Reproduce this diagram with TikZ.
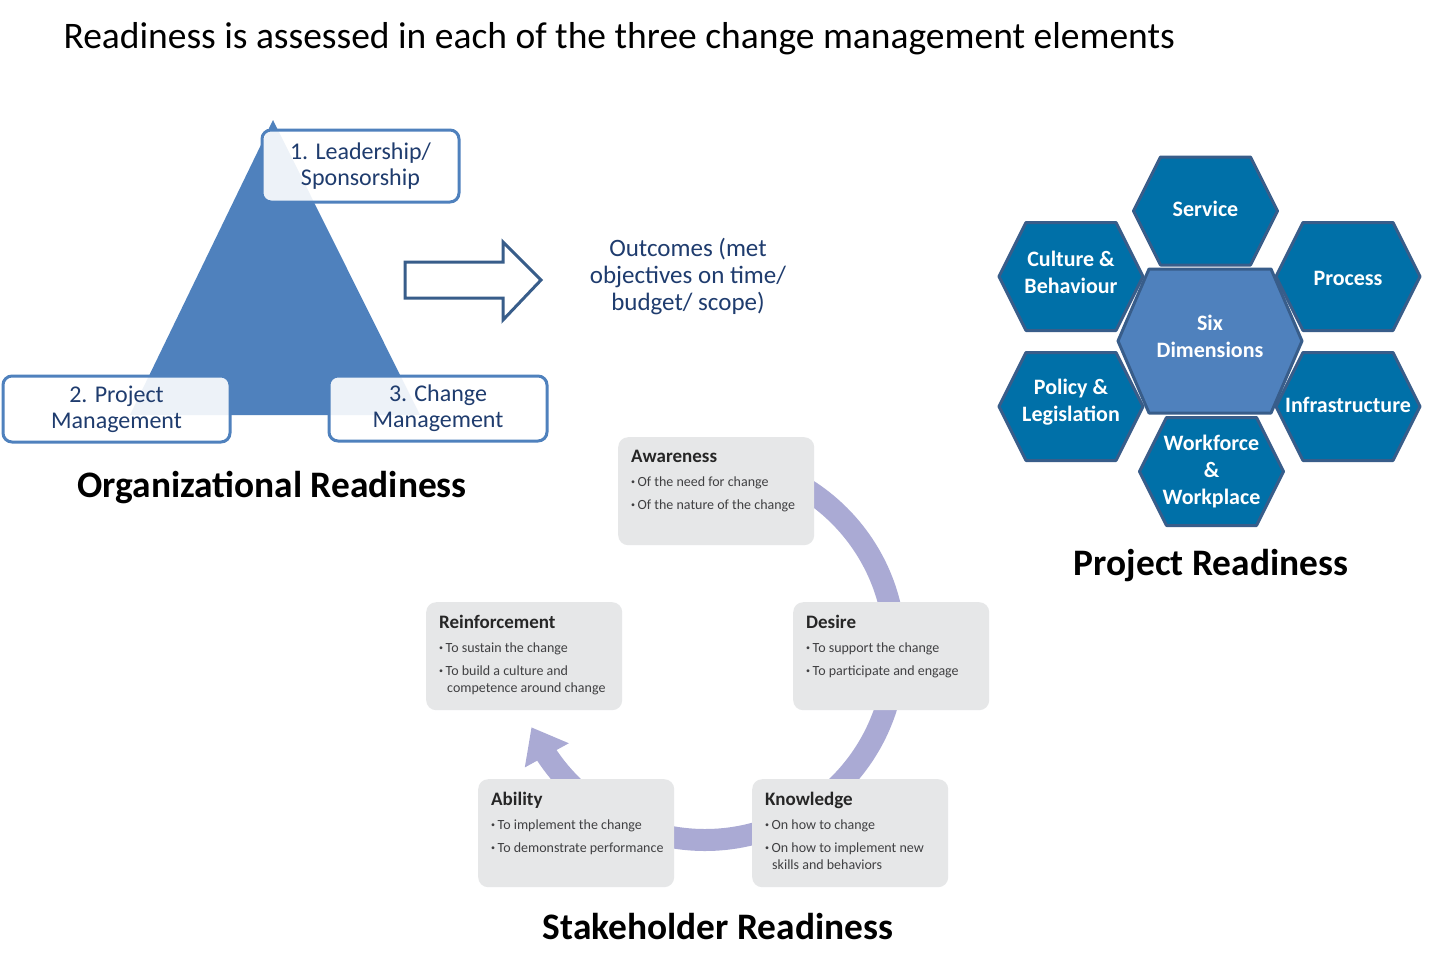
\documentclass[tikz,border=0pt]{standalone}
\usepackage{fontspec}
\setmainfont{Carlito}
\usetikzlibrary{positioning,arrows.meta,bending}

\definecolor{triblue}{RGB}{79,129,189}
\definecolor{navytxt}{RGB}{31,60,110}
\definecolor{hexfill}{RGB}{0,112,168}
\definecolor{hexedge}{RGB}{56,93,138}
\definecolor{stagegray}{RGB}{230,231,232}
\definecolor{cyclelav}{RGB}{170,170,212}
\definecolor{stagetext}{RGB}{64,64,66}

\newcommand{\fs}[2]{\fontsize{#1}{#2}\selectfont}
\newcommand{\bul}{\raisebox{2pt}{\fs{8}{8}\textbullet}\hspace{2.5pt}}
\newcommand{\stagehead}[1]{{\fs{19}{18}\bfseries\color{black!85}#1}}

\begin{document}
\begin{tikzpicture}[x=1pt,y=-1pt,
  pillar/.style={draw=triblue,line width=3pt,rounded corners=9pt,fill=white,fill opacity=0.9,
    text opacity=1,text=navytxt,align=center,font=\fs{24}{26},inner sep=0pt},
  hexcell/.style={fill=hexfill,draw=hexedge,line width=3pt,line join=round},
  hexlabel/.style={text=white,font=\bfseries\fs{22}{27},align=center},
  headline/.style={font=\bfseries\fs{37.4}{42}},
  stage/.style={fill=stagegray,rounded corners=10pt,minimum width=196pt,minimum height=108pt,
    anchor=north west,inner sep=0pt},
  stagetxt/.style={align=left,inner sep=0pt,text=stagetext,font=\fs{14}{17}},
  cycle/.style={cyclelav,line width=22pt,-{Triangle[length=32pt,width=48pt,flex]}}]
\path[fill=white,use as bounding box] (0,0) rectangle (1432,972);
% title
\node[anchor=base west,font=\fs{37.5}{42}] (title) at (60,48)
  {Readiness is assessed in each of the three change management elements};
% organizational readiness triangle
\fill[triblue] (273,120) -- (420,415) -- (130,415) -- cycle;
\node[pillar,minimum width=197pt,minimum height=72pt] (lead) at (360.5,166) {1. Leadership/\\Sponsorship};
\node[pillar,minimum width=227pt,minimum height=66pt] (pm) at (116.5,409) {2. Project\\Management};
\node[pillar,minimum width=218pt,minimum height=65pt] (cm) at (438,408.5) {3. Change\\Management};
\node[headline] (orglabel) at (272,488) {Organizational Readiness};
% block arrow to outcomes
\draw[hexedge,line width=3pt,fill=white,line join=miter]
  (405,262) -- (503,262) -- (503,242) -- (541,280) -- (503,320) -- (503,298) -- (405,298) -- cycle;
\node[font=\fs{25}{27},text=navytxt,align=center] (outcomes) at (688,277)
  {Outcomes (met\\objectives on time/\\budget/ scope)};
% project readiness hexagons
\foreach \cx/\cy/\dy/\nm/\txt in {1205.5/211/-2/service/Service,
    1071/276.5/-4/culture/{Culture \&\\Behaviour},
    1348/276.5/2/process/Process,
    1071/406.5/-4/policy/{Policy \&\\Legislation},
    1348/406.5/-2/infra/Infrastructure,
    1211.5/471.5/0/workforce/{Workforce\\\&\\Workplace}}{
  \filldraw[hexcell] (\cx-72,\cy) -- (\cx-45,\cy-54) -- (\cx+45,\cy-54) -- (\cx+72,\cy)
    -- (\cx+45,\cy+54) -- (\cx-45,\cy+54) -- cycle;
  \node[hexlabel] (\nm) at (\cx,\cy+\dy) {\txt};
}
\filldraw[hexcell,fill=triblue] (1118,341) -- (1149,269) -- (1271,269) -- (1302,341)
  -- (1271,413) -- (1149,413) -- cycle;
\node[hexlabel] (sixdim) at (1210,336) {Six\\Dimensions};
\node[headline] (projlabel) at (1211,566) {Project Readiness};
% stakeholder readiness cycle
\draw[cycle] (705,460) arc[start angle=270,end angle=516,radius=190];
\node[stage] (aware) at (618,437) {};
\node[stage] (desire) at (793,602) {};
\node[stage] (knowl) at (752,779) {};
\node[stage] (ability) at (478,779) {};
\node[stage] (reinf) at (426,602) {};
\node[stagetxt,below right=13pt and 13pt of aware.north west]
  {\stagehead{Awareness}\\[7pt]\bul Of the need for change\\[6pt]\bul Of the nature of the change};
\node[stagetxt,below right=13pt and 13pt of desire.north west]
  {\stagehead{Desire}\\[7pt]\bul To support the change\\[6pt]\bul To participate and engage};
\node[stagetxt,below right=13pt and 13pt of knowl.north west]
  {\stagehead{Knowledge}\\[7pt]\bul On how to change\\[6pt]\bul On how to implement new\\\hspace{7pt}skills and behaviors};
\node[stagetxt,below right=13pt and 13pt of ability.north west]
  {\stagehead{Ability}\\[7pt]\bul To implement the change\\[6pt]\bul To demonstrate performance};
\node[stagetxt,below right=13pt and 13pt of reinf.north west]
  {\stagehead{Reinforcement}\\[7pt]\bul To sustain the change\\[6pt]\bul To build a culture and\\\hspace{8pt}competence around change};
\node[headline] (stakelabel) at (718,927) {Stakeholder Readiness};
\end{tikzpicture}
\end{document}
